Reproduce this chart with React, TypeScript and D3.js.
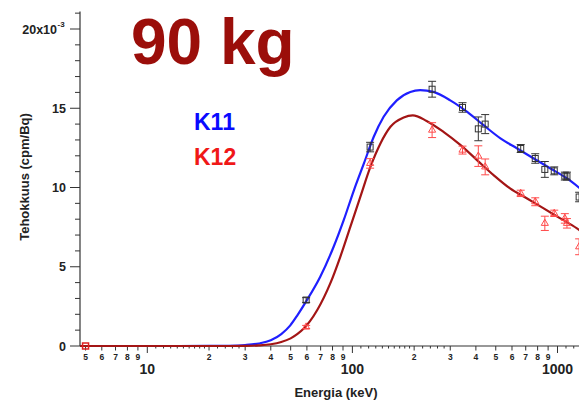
import { useEffect, useRef } from 'react';
import * as d3 from 'd3';

// measured points (energy keV, efficiency x10^-3, half error)
const energies = [59.5, 122, 244.7, 344.3, 411.1, 444, 661.7, 778.9, 867.4, 964.1, 1085.8, 1112.1, 1275];
const k11Values = [2.9, 12.55, 16.2, 15.05, 13.7, 14.0, 12.46, 11.83, 11.14, 11.05, 10.72, 10.72, 9.4];
const k11Errors = [0.15, 0.3, 0.5, 0.3, 0.75, 0.6, 0.25, 0.3, 0.5, 0.25, 0.25, 0.25, 0.3];
const k12Values = [1.2, 11.52, 13.62, 12.36, 11.98, 11.3, 9.63, 9.1, 7.74, 8.37, 8.05, 7.74, 6.26];
const k12Errors = [0.1, 0.3, 0.47, 0.25, 0.65, 0.5, 0.2, 0.25, 0.45, 0.2, 0.3, 0.3, 0.5];
const lowEnergies = [5];
const lowValues = [0];

// fitted curves
const k11FitE = [4.7, 10, 20, 25, 30, 35, 40, 45, 49.8, 54, 59.4, 69.7, 81, 90.7, 101.8, 113.8, 127.1, 142, 164.6, 191.6, 214, 248, 300, 363, 436, 527, 636, 766, 924, 1113, 1300];
const k11FitV = [0, 0, 0.002, 0.015, 0.06, 0.16, 0.36, 0.75, 1.3, 1.95, 2.8, 4.37, 6.26, 7.94, 9.84, 11.52, 13.2, 14.46, 15.5, 16.03, 16.14, 16.03, 15.5, 14.77, 13.93, 13.1, 12.46, 11.83, 11.2, 10.57, 9.9];
const k12FitE = [4.7, 10, 25, 30, 35, 40, 45, 50, 54, 57.9, 62, 67.4, 78, 87.3, 97.7, 109.3, 122.4, 137, 153.3, 177.8, 197, 230, 278, 337, 405, 488, 587, 711, 856, 1032, 1244, 1300];
const k12FitV = [0, 0, 0, 0.01, 0.04, 0.11, 0.25, 0.48, 0.76, 1.1, 1.55, 2.27, 3.95, 5.63, 7.52, 9.41, 11.3, 12.78, 13.83, 14.42, 14.55, 14.2, 13.51, 12.67, 11.73, 10.78, 9.94, 9.31, 8.68, 8.05, 7.42, 7.25];

const yMajor = [0, 5, 10, 15, 20];
const yMinor = d3.range(0, 22);
const xDecades = [10, 100, 1000];
const xLabeled = [5, 6, 7, 8, 9, 20, 30, 40, 50, 60, 70, 80, 90, 200, 300, 400, 500, 600, 700, 800, 900];
const xSmall = [11, 12, 13, 14, 15, 16, 17, 18, 19, 22, 24, 26, 28, 110, 120, 130, 140, 150, 160, 170, 180, 190, 220, 240, 260, 280, 1100, 1200];

const W = 579;
const H = 402;
const FONT = 'Liberation Sans, Arial, sans-serif';

export default function App() {
  const svgRef = useRef<SVGSVGElement>(null);

  useEffect(() => {
    const svg = d3.select(svgRef.current);
    svg.selectAll('*').remove();

    const x = d3.scaleLog().domain([10, 1000]).range([147.3, 557.5]);
    const y = d3.scaleLinear().domain([0, 20]).range([346, 29]);
    const axisX = 80;
    const axisColor = '#333';

    const g = svg.append('g');

    // y axis
    g.append('line').attr('x1', axisX).attr('x2', axisX).attr('y1', y(0)).attr('y2', y(21.1))
      .attr('stroke', axisColor).attr('stroke-width', 1.2);
    yMinor.forEach(v => {
      if (v > 21.1) return;
      const major = yMajor.includes(v);
      g.append('line').attr('x1', axisX - (major ? 10 : 5)).attr('x2', axisX)
        .attr('y1', y(v)).attr('y2', y(v)).attr('stroke', axisColor).attr('stroke-width', 1);
    });
    yMajor.forEach(v => {
      g.append('text').attr('x', v === 20 ? 57 : 66).attr('y', y(v) + 4.5)
        .attr('text-anchor', 'end').attr('font-family', FONT).attr('font-weight', 'bold')
        .attr('font-size', 12.5).attr('fill', '#222').text(v === 20 ? '20x10' : String(v));
      if (v === 20) {
        g.append('text').attr('x', 57.5).attr('y', y(v) - 2).attr('font-family', FONT)
          .attr('font-weight', 'bold').attr('font-size', 8).attr('fill', '#222').text('-3');
      }
    });

    // x axis
    g.append('line').attr('x1', axisX).attr('x2', W).attr('y1', y(0)).attr('y2', y(0))
      .attr('stroke', axisColor).attr('stroke-width', 1.2);
    const tick = (v: number, len: number) =>
      g.append('line').attr('x1', x(v)).attr('x2', x(v)).attr('y1', y(0)).attr('y2', y(0) + len)
        .attr('stroke', axisColor).attr('stroke-width', 1);
    xDecades.forEach(v => tick(v, 7));
    xLabeled.forEach(v => tick(v, 4.5));
    xSmall.forEach(v => tick(v, 2.5));
    xLabeled.forEach(v => {
      g.append('text').attr('x', x(v)).attr('y', 360).attr('text-anchor', 'middle')
        .attr('font-family', FONT).attr('font-weight', 'bold').attr('font-size', 8.5)
        .attr('fill', '#222').text(String(v)[0]);
    });
    xDecades.forEach(v => {
      g.append('text').attr('x', x(v)).attr('y', 374).attr('text-anchor', 'middle')
        .attr('font-family', FONT).attr('font-weight', 'bold').attr('font-size', 14)
        .attr('fill', '#222').text(String(v));
    });

    // axis titles
    g.append('text').attr('x', 336).attr('y', 397).attr('text-anchor', 'middle')
      .attr('font-family', FONT).attr('font-weight', 'bold').attr('font-size', 13)
      .attr('fill', '#222').text('Energia (keV)');
    g.append('text').attr('transform', `translate(29,177) rotate(-90)`).attr('text-anchor', 'middle')
      .attr('font-family', FONT).attr('font-weight', 'bold').attr('font-size', 13)
      .attr('fill', '#222').text('Tehokkuus (cpm/Bq)');

    // fitted curves
    const line = d3.line<[number, number]>()
      .x(d => x(d[0])).y(d => y(d[1])).curve(d3.curveMonotoneX);
    g.append('path').datum(k11FitE.map((e, i) => [e, k11FitV[i]] as [number, number]))
      .attr('d', line).attr('fill', 'none').attr('stroke', '#1f1fff').attr('stroke-width', 2.2);
    g.append('path').datum(k12FitE.map((e, i) => [e, k12FitV[i]] as [number, number]))
      .attr('d', line).attr('fill', 'none').attr('stroke', '#a31515').attr('stroke-width', 2.2);

    // error bars + markers
    const errBar = (e: number, v: number, err: number, color: string) => {
      const cx = x(e);
      g.append('line').attr('x1', cx).attr('x2', cx).attr('y1', y(v - err)).attr('y2', y(v + err))
        .attr('stroke', color).attr('stroke-width', 1);
      [v - err, v + err].forEach(yy =>
        g.append('line').attr('x1', cx - 4).attr('x2', cx + 4).attr('y1', y(yy)).attr('y2', y(yy))
          .attr('stroke', color).attr('stroke-width', 1));
    };
    energies.forEach((e, i) => {
      errBar(e, k11Values[i], k11Errors[i], '#333');
      g.append('rect').attr('x', x(e) - 3).attr('y', y(k11Values[i]) - 3).attr('width', 6).attr('height', 6)
        .attr('fill', 'none').attr('stroke', '#333').attr('stroke-width', 1);
    });
    const tri = d3.symbol().type(d3.symbolTriangle).size(22);
    energies.forEach((e, i) => {
      errBar(e, k12Values[i], k12Errors[i], '#ff4a4a');
      g.append('path').attr('d', tri()).attr('transform', `translate(${x(e)},${y(k12Values[i])})`)
        .attr('fill', 'none').attr('stroke', '#ff4a4a').attr('stroke-width', 1);
    });
    lowEnergies.forEach((e, i) => {
      g.append('rect').attr('x', x(e) - 3).attr('y', y(lowValues[i]) - 3).attr('width', 6).attr('height', 6)
        .attr('fill', 'none').attr('stroke', '#e02020').attr('stroke-width', 1.5);
    });

    // title + legend text
    g.append('text').attr('x', 131).attr('y', 64).attr('font-family', FONT).attr('font-weight', 'bold')
      .attr('font-size', 64).attr('fill', '#9b0e0a').text('90 kg');
    g.append('text').attr('x', 194).attr('y', 129.5).attr('font-family', FONT).attr('font-weight', 'bold')
      .attr('font-size', 23).attr('fill', '#0a0aff').text('K11');
    g.append('text').attr('x', 194).attr('y', 165).attr('font-family', FONT).attr('font-weight', 'bold')
      .attr('font-size', 23).attr('fill', '#f01818').text('K12');
  }, []);

  return (
    <svg ref={svgRef} width={W} height={H}
      style={{ position: 'absolute', left: 0, top: 0, background: '#fff' }} />
  );
}
